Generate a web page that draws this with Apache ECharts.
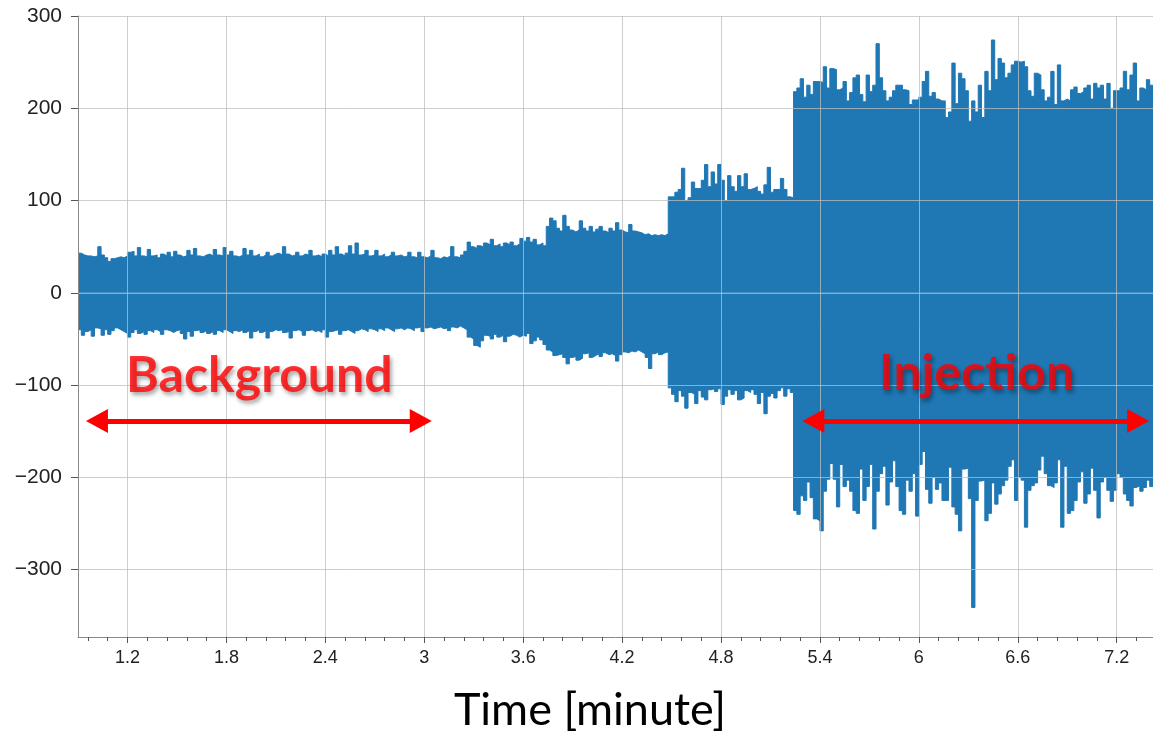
<!DOCTYPE html>
<html>
<head>
<meta charset="utf-8">
<script src="https://cdn.jsdelivr.net/npm/echarts@6.0.0/dist/echarts.min.js"></script>
<style>
  html, body { margin: 0; padding: 0; background: #ffffff; }
  #chart { width: 1153px; height: 733px; }
</style>
</head>
<body>
<div id="chart"></div>
<script>
// Sample spacing of the signal envelope (minutes); each sample holds its
// upper and lower peak until the next sample.
const DT = 0.02;

// Background phase
const bgStart = 0.90;
const bgUpper = [
  43,41,40,40,39,40,50,41,38,34,
  37,38,39,38,40,44,45,40,49,40,
  39,47,40,41,38,42,40,44,39,45,
  41,39,40,46,41,48,40,39,41,42,
  40,47,41,40,49,41,45,40,39,41,
  48,41,46,40,42,39,41,44,40,42,
  43,41,50,42,40,41,44,40,42,41,
  46,40,41,39,42,40,46,41,50,42,
  40,43,51,42,54,41,42,46,40,41,
  46,40,42,39,41,44,40,41,39,40,
  44,39,38,44,39,38,40,46,38,37,
  39,38,40,50,39,38,41,45
];
const bgLower = [
  -40,-46,-42,-40,-47,-38,-39,-46,-40,-45,
  -41,-38,-40,-42,-44,-48,-43,-40,-44,-42,
  -45,-41,-43,-40,-42,-45,-40,-41,-43,-41,
  -40,-44,-50,-42,-47,-41,-40,-43,-41,-44,
  -42,-45,-41,-43,-40,-42,-44,-41,-42,-40,
  -43,-41,-49,-42,-40,-43,-41,-49,-42,-40,
  -41,-40,-43,-42,-49,-41,-40,-42,-46,-41,
  -40,-42,-41,-43,-40,-48,-42,-41,-40,-45,
  -41,-40,-42,-44,-41,-39,-40,-42,-39,-40,
  -42,-39,-41,-38,-40,-42,-39,-38,-40,-38,
  -39,-41,-38,-37,-42,-38,-37,-39,-38,-37,
  -39,-38,-41,-37,-38,-36,-38,-40
];

// First rise
const riseStart = 3.26;
const riseUpper = [55,50,48,51,50,54,52,58,51,53,50,54,52,55,51,53,59,56,60,55,58,52,54,51];
const riseLower = [-48,-50,-57,-59,-52,-46,-47,-50,-45,-48,-46,-53,-47,-45,-46,-48,-46,-47,-44,-55,-52,-48,-51,-56];

// Second level
const stepStart = 3.74;
const stepUpper = [72,81,78,70,67,84,72,68,66,68,78,70,67,72,66,69,72,67,65,70,67,76,68,66,65,74,67,66,65,63,64,62,63,62,63,62,64];
const stepLower = [-62,-64,-68,-67,-66,-70,-77,-70,-69,-73,-71,-66,-65,-70,-68,-66,-69,-65,-67,-66,-68,-74,-67,-64,-65,-63,-64,-62,-64,-66,-70,-82,-66,-64,-67,-65,-64];

// Third level
const highStart = 4.48;
const highUpper = [104,104,109,112,135,100,103,120,113,113,122,139,115,131,118,139,122,100,127,115,110,127,115,129,112,113,115,110,107,117,136,109,112,112,124,112,104,103];
const highLower = [-103,-110,-118,-106,-112,-125,-108,-110,-120,-106,-113,-116,-105,-104,-107,-104,-121,-112,-105,-110,-106,-116,-114,-106,-108,-105,-110,-120,-108,-131,-112,-109,-114,-106,-103,-112,-104,-108];

// Injection phase
const injStart = 5.24;
const injUpper = [
  218,222,232,212,225,215,229,229,228,245,
  222,243,242,220,222,229,208,217,233,236,
  215,207,236,218,225,270,233,219,208,212,
  219,225,225,220,219,204,209,209,212,229,
  240,213,217,210,208,208,190,196,249,205,
  238,232,219,186,208,196,225,190,240,219,
  274,231,254,249,233,238,247,251,250,251,
  245,219,213,238,236,220,208,212,240,204,
  247,208,210,208,220,223,216,218,222,225,
  210,227,222,225,210,227,200,219,219,222,
  240,220,236,249,208,222,220,231,225
];
const injLower = [
  -236,-240,-220,-225,-205,-222,-245,-247,-258,-215,
  -202,-185,-202,-232,-186,-210,-203,-215,-236,-239,
  -191,-225,-210,-186,-256,-215,-196,-188,-230,-205,
  -182,-210,-236,-240,-203,-215,-196,-242,-186,-172,
  -213,-228,-200,-213,-206,-225,-225,-189,-232,-240,
  -258,-191,-190,-223,-341,-225,-204,-203,-247,-239,
  -206,-229,-218,-209,-203,-188,-181,-225,-200,-203,
  -254,-214,-209,-206,-192,-177,-196,-209,-211,-206,
  -181,-254,-188,-239,-236,-225,-205,-194,-228,-218,
  -190,-214,-244,-205,-200,-214,-226,-214,-196,-200,
  -218,-225,-231,-211,-209,-215,-211,-203,-210
];

// Axis ticks
const xTicks = [1.2, 1.8, 2.4, 3.0, 3.6, 4.2, 4.8, 5.4, 6.0, 6.6, 7.2];
const yTicks = [-300, -200, -100, 0, 100, 200, 300];

// Annotations: labels and double arrows (data coordinates)
const annoLabels = [
  { name: 'Background', value: [2.0, -90] },
  { name: 'Injection', value: [6.35, -88] }
];
const annoArrows = [
  [[1.015, -139], [2.979, -139]],
  [[5.36, -139], [7.33, -139]]
];

const X_MIN = 0.9, X_MAX = 7.42, Y_MIN = -373, Y_MAX = 300;
const BLUE = '#1f77b4';
const GRID = 'rgba(190,190,190,0.75)';

const phases = [
  [bgStart, bgUpper, bgLower],
  [riseStart, riseUpper, riseLower],
  [stepStart, stepUpper, stepLower],
  [highStart, highUpper, highLower],
  [injStart, injUpper, injLower]
];
const upperPts = [], lowerPts = [];
phases.forEach(([start, up, lo]) => {
  up.forEach((u, i) => {
    const t = +(start + i * DT).toFixed(3);
    upperPts.push([t, u]);
    lowerPts.push([t, lo[i]]);
  });
});
// close the last sample at the end of its interval
const lastT = +(upperPts[upperPts.length - 1][0] + DT).toFixed(3);
upperPts.push([lastT, upperPts[upperPts.length - 1][1]]);
lowerPts.push([lastT, lowerPts[lowerPts.length - 1][1]]);

// minor ticks every fifth of a major step
const xMinor = [];
for (let v = 0.96; v < X_MAX; v += 0.12) {
  const r = +v.toFixed(2);
  if (!xTicks.some(t => Math.abs(t - r) < 1e-6)) xMinor.push(r);
}

const envelope = (name, pts) => ({
  name, type: 'line', data: pts, step: 'end', z: 2, silent: true,
  showSymbol: false, symbol: 'none', clip: true,
  lineStyle: { color: BLUE, width: 1 },
  areaStyle: { color: BLUE, opacity: 1, origin: 0 }
});

const chart = echarts.init(document.getElementById('chart'), null, { renderer: 'canvas' });

chart.setOption({
  animation: false,
  backgroundColor: '#ffffff',
  grid: { left: 78, right: 0, top: 16, bottom: 96, containLabel: false },
  xAxis: [
    {
      type: 'value', min: X_MIN, max: X_MAX, z: 3,
      axisLine: { show: true, onZero: false, lineStyle: { color: '#8a8a8a', width: 1 } },
      axisTick: { show: true, customValues: xTicks, length: 6, lineStyle: { color: '#555' } },
      axisLabel: {
        customValues: xTicks, margin: 12, fontSize: 18, color: '#222',
        fontFamily: 'Liberation Sans Narrow, Liberation Sans, Arial, sans-serif',
        formatter: v => String(+v.toFixed(1))
      },
      splitLine: { show: true, lineStyle: { color: GRID, width: 1 } }
    },
    {
      type: 'value', min: X_MIN, max: X_MAX, position: 'bottom', z: 3,
      axisLine: { show: false, onZero: false },
      axisTick: { show: true, customValues: xMinor, length: 4, lineStyle: { color: '#555' } },
      axisLabel: { show: false },
      splitLine: { show: false }
    }
  ],
  yAxis: {
    type: 'value', min: Y_MIN, max: Y_MAX, z: 3,
    axisLine: { show: true, lineStyle: { color: '#8a8a8a', width: 1 } },
    axisTick: { show: true, customValues: yTicks, length: 7, lineStyle: { color: '#555' } },
    axisLabel: {
      customValues: yTicks, margin: 16, fontSize: 21, color: '#222',
      fontFamily: 'Liberation Sans, Arial, sans-serif',
      formatter: v => String(v).replace('-', '\u2212')
    },
    splitLine: { show: true, lineStyle: { color: GRID, width: 1 } }
  },
  graphic: [{
    type: 'text', x: 590, y: 710, z: 10,
    style: {
      text: 'Time [minute]', fill: '#000', font: '45px Lato, sans-serif',
      textAlign: 'center', textVerticalAlign: 'middle'
    }
  }],
  series: [
    envelope('upper peaks', upperPts),
    envelope('lower peaks', lowerPts),
    {
      name: 'annotations', type: 'scatter', z: 10, silent: true,
      symbolSize: 0,
      data: annoLabels,
      label: {
        show: true, position: 'inside', formatter: '{b}',
        fontFamily: 'Lato, sans-serif', fontWeight: 'bold', fontSize: 50,
        color: '#ff0000',
        textShadowColor: 'rgba(0,0,0,0.45)', textShadowBlur: 4,
        textShadowOffsetX: 2, textShadowOffsetY: 3
      },
      markLine: {
        silent: true, animation: false,
        symbol: ['triangle', 'triangle'], symbolSize: [24, 22],
        label: { show: false },
        lineStyle: { color: '#ff0000', width: 5, type: 'solid', opacity: 1 },
        emphasis: { disabled: true },
        data: annoArrows.map(([a, b]) => [{ coord: a }, { coord: b }])
      }
    }
  ]
});
</script>
</body>
</html>
